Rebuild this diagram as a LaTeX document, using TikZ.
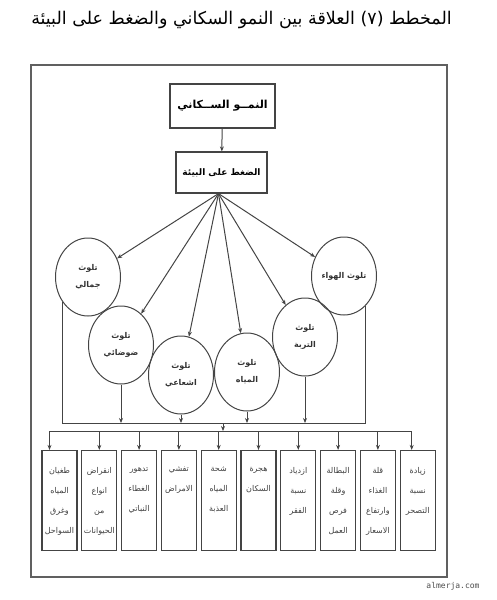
\documentclass[tikz,border=0pt]{standalone}
\usepackage{fontspec}
\usetikzlibrary{shapes.geometric,arrows.meta,calc}
\TeXXeTstate=1
\newfontfamily\arabicfont[Script=Arabic]{DejaVu Sans}
\newfontfamily\wmfont{DejaVu Sans Mono}
\definecolor{ink}{HTML}{444444}
\tikzset{
  x=1pt,y=-1pt,
  lin/.style={draw=ink,line width=1pt},
  arr/.style={lin,-{Stealth[length=5pt,width=4pt]}},
  topbox/.style={draw=ink,line width=1.2pt,rectangle,inner sep=0pt,font=\arabicfont\bfseries\fontsize{11}{13}\selectfont},
  circ/.style={draw=ink,line width=1pt,ellipse,minimum width=65pt,minimum height=78pt,inner sep=0pt,align=center,font=\arabicfont\bfseries\fontsize{8}{17}\selectfont,text=black!80},
  effbox/.style={draw=ink,line width=1.2pt,rectangle,minimum width=35pt,minimum height=100pt,inner sep=0pt},
  efftext/.style={anchor=north,align=center,inner sep=0pt,font=\arabicfont\fontsize{8}{20}\selectfont,text=black!75},
}
\begin{document}
\begin{tikzpicture}
\useasboundingbox (0,0) rectangle (497,600);
% title
\node[font=\arabicfont\fontsize{17.5}{19}\selectfont] (title) at (241.5,20) {\beginR المخطط (٧) العلاقة بين النمو السكاني والضغط على البيئة\endR};
% frame
\node[draw=ink!85,line width=1.7pt,rectangle,minimum width=416pt,minimum height=512pt,inner sep=0pt] (frame) at (239,321) {};
% top boxes
\node[topbox,minimum width=105pt,minimum height=44pt] (pop) at (222.5,106) {\beginR النمــو الســكاني\endR};
\node[topbox,minimum width=91pt,minimum height=41pt,font=\arabicfont\bfseries\fontsize{9}{11}\selectfont] (env) at (221.5,172.5) {\beginR الضغط على البيئة\endR};
\draw[arr] (pop) -- (env);
% circles
\node[circ] (jamali) at (88,277) {تلوث\\جمالي};
\node[circ] (dawda) at (121,345) {تلوث\\ضوضائي};
\node[circ] (ishaa) at (181,375) {تلوث\\اشعاعي};
\node[circ] (miyah) at (247,372) {تلوث\\المياه};
\node[circ] (turba) at (305,337) {تلوث\\التربة};
\node[circ] (hawa) at (344,276) {\beginR تلوث الهواء\endR};
\coordinate (hub) at ([xshift=-3pt]env.south);
\foreach \c in {jamali,dawda,ishaa,miyah,turba,hawa}{\draw[arr] (hub) -- (\c);}
% first bus
\coordinate (busA) at (0,423);
\coordinate (busB) at (0,431);
\draw[lin] (jamali.225) -- (jamali.225 |- busA) -- (hawa.305 |- busA) -- (hawa.305);
\foreach \c in {dawda,ishaa,miyah,turba}{\draw[arr] (\c.south) -- (\c.south |- busA);}
\coordinate (mid) at (223,423);
\draw[arr] (mid) -- (mid |- busB);
% effect boxes
\foreach \i/\t [evaluate=\i as \xx using 59.5+39.8*(\i-1)] in {
 1/{طغيان\\المياه\\وغرق\\السواحل},
 2/{انقراض\\انواع\\من\\الحيوانات},
 3/{تدهور\\الغطاء\\النباتي},
 4/{تفشي\\الامراض},
 5/{شحة\\المياه\\العذبة},
 6/{هجرة\\السكان},
 7/{ازدياد\\نسبة\\الفقر},
 8/{البطالة\\وقلة\\فرص\\العمل},
 9/{قلة\\الغذاء\\وارتفاع\\الاسعار},
 10/{زيادة\\نسبة\\التصحر}}{
  \node[effbox] (b\i) at (\xx,500.5) {};
  \node[efftext] (t\i) at ([yshift=-17pt]b\i.north) {\t};
}
\draw[lin] ([xshift=-10pt]b1.north |- busB) -- ([xshift=-6pt]b10.north |- busB);
\draw[arr] ([xshift=-10pt]b1.north |- busB) -- ([xshift=-10pt]b1.north);
\foreach \i in {2,...,9}{\draw[arr] (b\i.north |- busB) -- (b\i.north);}
\draw[arr] ([xshift=-6pt]b10.north |- busB) -- ([xshift=-6pt]b10.north);
% watermark
\node[font=\wmfont\fontsize{8}{9}\selectfont,text=black!70,anchor=east] (wm) at (483,586) {almerja.com};
\end{tikzpicture}
\end{document}
